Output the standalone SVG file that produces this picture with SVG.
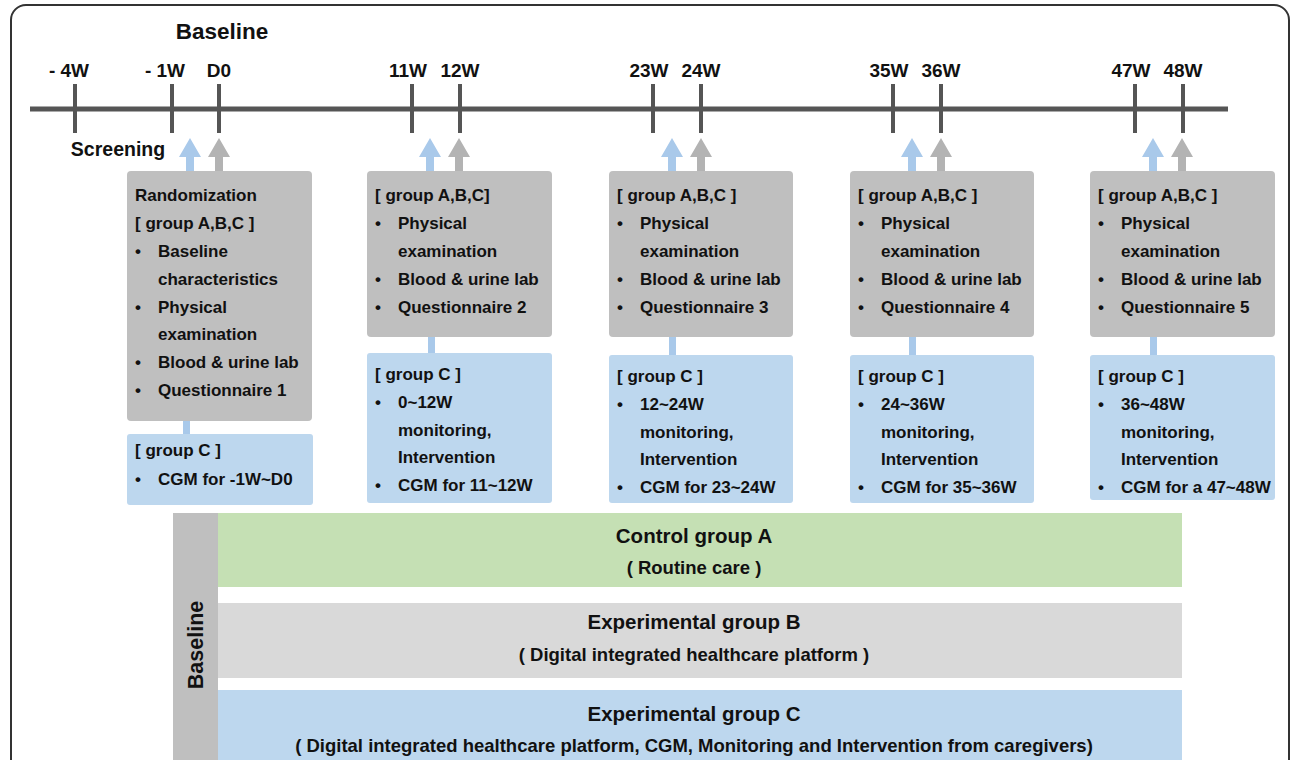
<svg xmlns="http://www.w3.org/2000/svg" width="1292" height="760" viewBox="0 0 1292 760">
<style>
text{font-family:"Liberation Sans",Arial,sans-serif;font-weight:bold;fill:#111}
.t{font-size:17px}
.lbl{font-size:19px;text-anchor:middle}
.big{font-size:20.5px;text-anchor:middle}
.sub{font-size:18.5px;text-anchor:middle}
.gbox{fill:#bfbfbf}
.bbox{fill:#bdd7ee}
.tick{stroke:#555;stroke-width:4}
.ab{fill:#a9c9ea}
.ag{fill:#b3b3b3}
</style>
<defs>
<path id="arrow" d="M-4,34 V19 H-11 L0,0 L11,19 H4 V34 Z"/>
</defs>
<rect x="11" y="5" width="1278" height="800" rx="15" fill="#fff" stroke="#333" stroke-width="2"/>

<g id="timeline">
<line x1="30" y1="109" x2="1228" y2="109" stroke="#555" stroke-width="5"/>
<line class="tick" x1="75" y1="84" x2="75" y2="133"/>
<line class="tick" x1="172" y1="84" x2="172" y2="133"/>
<line class="tick" x1="219" y1="84" x2="219" y2="133"/>
<line class="tick" x1="412" y1="84" x2="412" y2="133"/>
<line class="tick" x1="460" y1="84" x2="460" y2="133"/>
<line class="tick" x1="653" y1="84" x2="653" y2="133"/>
<line class="tick" x1="701" y1="84" x2="701" y2="133"/>
<line class="tick" x1="893" y1="84" x2="893" y2="133"/>
<line class="tick" x1="941" y1="84" x2="941" y2="133"/>
<line class="tick" x1="1135" y1="84" x2="1135" y2="133"/>
<line class="tick" x1="1183" y1="84" x2="1183" y2="133"/>
<text x="222" y="39" style="font-size:22.5px;text-anchor:middle">Baseline</text>
<text class="lbl" x="69" y="77">- 4W</text>
<text class="lbl" x="165" y="77">- 1W</text>
<text class="lbl" x="219" y="77">D0</text>
<text class="lbl" x="408" y="77">11W</text>
<text class="lbl" x="460" y="77">12W</text>
<text class="lbl" x="649" y="77">23W</text>
<text class="lbl" x="701" y="77">24W</text>
<text class="lbl" x="889" y="77">35W</text>
<text class="lbl" x="941" y="77">36W</text>
<text class="lbl" x="1131" y="77">47W</text>
<text class="lbl" x="1183" y="77">48W</text>
<text x="118" y="156" style="font-size:19.5px;text-anchor:middle">Screening</text>
</g>

<g id="connectors">
<use href="#arrow" class="ab" x="190" y="138"/>
<use href="#arrow" class="ag" x="219" y="138"/>
<use href="#arrow" class="ab" x="430" y="138"/>
<use href="#arrow" class="ag" x="459" y="138"/>
<use href="#arrow" class="ab" x="672" y="138"/>
<use href="#arrow" class="ag" x="701" y="138"/>
<use href="#arrow" class="ab" x="912" y="138"/>
<use href="#arrow" class="ag" x="941" y="138"/>
<use href="#arrow" class="ab" x="1153" y="138"/>
<use href="#arrow" class="ag" x="1182" y="138"/>
<rect class="ab" x="183" y="420" width="7" height="15"/>
<rect class="ab" x="428" y="336" width="7" height="18"/>
<rect class="ab" x="669" y="336" width="7" height="20"/>
<rect class="ab" x="909" y="336" width="7" height="20"/>
<rect class="ab" x="1150" y="336" width="7" height="20"/>
</g>

<g id="visit1">
<rect class="gbox" x="127" y="171" width="185" height="250" rx="4"/>
<text class="t" x="135" y="201">Randomization</text>
<text class="t" x="135" y="229">[ group A,B,C ]</text>
<text class="t" x="135" y="257">•</text><text class="t" x="158" y="257">Baseline</text>
<text class="t" x="158" y="285">characteristics</text>
<text class="t" x="135" y="313">•</text><text class="t" x="158" y="313">Physical</text>
<text class="t" x="158" y="340">examination</text>
<text class="t" x="135" y="368">•</text><text class="t" x="158" y="368">Blood &amp; urine lab</text>
<text class="t" x="135" y="396">•</text><text class="t" x="158" y="396">Questionnaire 1</text>
</g>
<g id="visit1c">
<rect class="bbox" x="127" y="434" width="186" height="71" rx="3"/>
<text class="t" x="135" y="456">[ group C ]</text>
<text class="t" x="135" y="485">•</text><text class="t" x="158" y="485">CGM for -1W~D0</text>
</g>

<g id="visit2">
<rect class="gbox" x="367" y="171" width="185" height="166" rx="4"/>
<text class="t" x="375" y="201">[ group A,B,C]</text>
<text class="t" x="375" y="229">•</text><text class="t" x="398" y="229">Physical</text>
<text class="t" x="398" y="257">examination</text>
<text class="t" x="375" y="285">•</text><text class="t" x="398" y="285">Blood &amp; urine lab</text>
<text class="t" x="375" y="313">•</text><text class="t" x="398" y="313">Questionnaire 2</text>
</g>
<g id="visit2c">
<rect class="bbox" x="367" y="353" width="185" height="150" rx="3"/>
<text class="t" x="375" y="380">[ group C ]</text>
<text class="t" x="375" y="408">•</text><text class="t" x="398" y="408">0~12W</text>
<text class="t" x="398" y="436">monitoring,</text>
<text class="t" x="398" y="463">Intervention</text>
<text class="t" x="375" y="491">•</text><text class="t" x="398" y="491">CGM for 11~12W</text>
</g>

<g id="visit3">
<rect class="gbox" x="609" y="171" width="184" height="166" rx="4"/>
<text class="t" x="617" y="201">[ group A,B,C ]</text>
<text class="t" x="617" y="229">•</text><text class="t" x="640" y="229">Physical</text>
<text class="t" x="640" y="257">examination</text>
<text class="t" x="617" y="285">•</text><text class="t" x="640" y="285">Blood &amp; urine lab</text>
<text class="t" x="617" y="313">•</text><text class="t" x="640" y="313">Questionnaire 3</text>
</g>
<g id="visit3c">
<rect class="bbox" x="609" y="355" width="184" height="148" rx="3"/>
<text class="t" x="617" y="382">[ group C ]</text>
<text class="t" x="617" y="410">•</text><text class="t" x="640" y="410">12~24W</text>
<text class="t" x="640" y="438">monitoring,</text>
<text class="t" x="640" y="465">Intervention</text>
<text class="t" x="617" y="493">•</text><text class="t" x="640" y="493">CGM for 23~24W</text>
</g>

<g id="visit4">
<rect class="gbox" x="850" y="171" width="184" height="166" rx="4"/>
<text class="t" x="858" y="201">[ group A,B,C ]</text>
<text class="t" x="858" y="229">•</text><text class="t" x="881" y="229">Physical</text>
<text class="t" x="881" y="257">examination</text>
<text class="t" x="858" y="285">•</text><text class="t" x="881" y="285">Blood &amp; urine lab</text>
<text class="t" x="858" y="313">•</text><text class="t" x="881" y="313">Questionnaire 4</text>
</g>
<g id="visit4c">
<rect class="bbox" x="850" y="355" width="184" height="148" rx="3"/>
<text class="t" x="858" y="382">[ group C ]</text>
<text class="t" x="858" y="410">•</text><text class="t" x="881" y="410">24~36W</text>
<text class="t" x="881" y="438">monitoring,</text>
<text class="t" x="881" y="465">Intervention</text>
<text class="t" x="858" y="493">•</text><text class="t" x="881" y="493">CGM for 35~36W</text>
</g>

<g id="visit5">
<rect class="gbox" x="1090" y="171" width="185" height="166" rx="4"/>
<text class="t" x="1098" y="201">[ group A,B,C ]</text>
<text class="t" x="1098" y="229">•</text><text class="t" x="1121" y="229">Physical</text>
<text class="t" x="1121" y="257">examination</text>
<text class="t" x="1098" y="285">•</text><text class="t" x="1121" y="285">Blood &amp; urine lab</text>
<text class="t" x="1098" y="313">•</text><text class="t" x="1121" y="313">Questionnaire 5</text>
</g>
<g id="visit5c">
<rect class="bbox" x="1090" y="355" width="185" height="145" rx="3"/>
<text class="t" x="1098" y="382">[ group C ]</text>
<text class="t" x="1098" y="410">•</text><text class="t" x="1121" y="410">36~48W</text>
<text class="t" x="1121" y="438">monitoring,</text>
<text class="t" x="1121" y="465">Intervention</text>
<text class="t" x="1098" y="493">•</text><text class="t" x="1121" y="493">CGM for a 47~48W</text>
</g>

<g id="baseline-bar">
<rect x="173" y="513" width="45" height="260" fill="#bfbfbf"/>
<text transform="translate(203,645) rotate(-90)" style="font-size:21.5px;text-anchor:middle">Baseline</text>
</g>
<g id="groupA">
<rect x="218" y="513" width="964" height="74" fill="#c5e0b4"/>
<text class="big" x="694" y="543">Control group A</text>
<text class="sub" x="694" y="574">( Routine care )</text>
</g>
<g id="groupB">
<rect x="218" y="603" width="964" height="75" fill="#d9d9d9"/>
<text class="big" x="694" y="629">Experimental group B</text>
<text class="sub" x="694" y="661">( Digital integrated healthcare platform )</text>
</g>
<g id="groupC">
<rect x="218" y="690" width="964" height="90" fill="#bdd7ee"/>
<text class="big" x="694" y="721">Experimental group C</text>
<text class="sub" x="694" y="752">( Digital integrated healthcare platform, CGM, Monitoring and Intervention from caregivers)</text>
</g>
</svg>
